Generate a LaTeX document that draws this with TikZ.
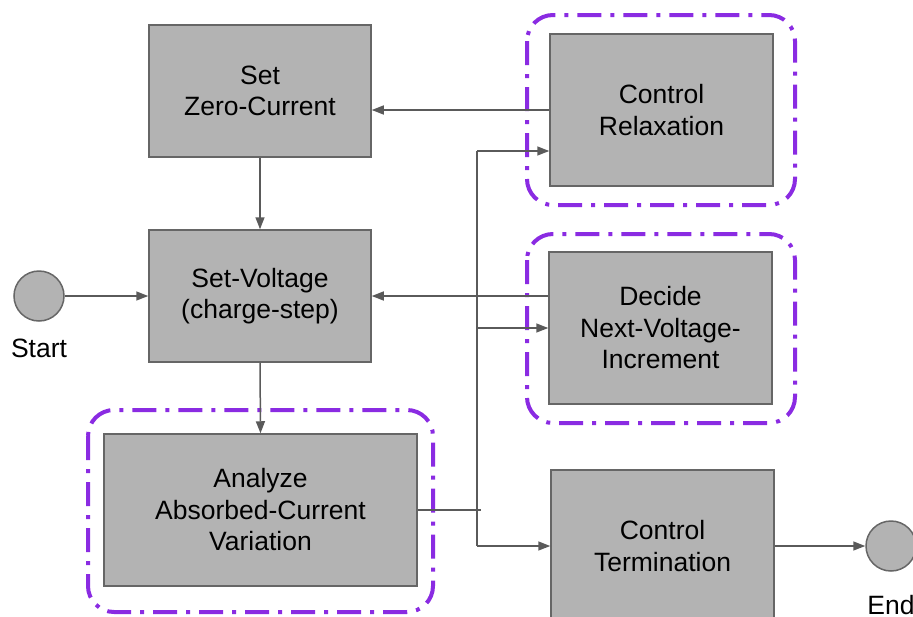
\documentclass[tikz,border=0pt]{standalone}
\usepackage{fontspec}
\setmainfont{Liberation Sans}
\usetikzlibrary{arrows.meta}
\definecolor{boxfill}{RGB}{179,179,179}
\definecolor{boxline}{RGB}{102,102,102}
\definecolor{wire}{RGB}{90,90,90}
\definecolor{grp}{RGB}{138,43,226}
\tikzset{
  stepbox/.style={draw=boxline, line width=1.5pt, fill=boxfill, minimum width=222pt, minimum height=132pt, align=center, font=\fontsize{26.5}{31.5}\selectfont, inner sep=0pt},
  bigbox/.style={stepbox, minimum height=152pt},
  terminal/.style={circle, draw=boxline, line width=1.5pt, fill=boxfill, minimum size=50pt, inner sep=0pt},
  lbl/.style={font=\fontsize{26.5}{31.5}\selectfont, inner sep=0pt},
  wire/.style={draw=wire, line width=1.5pt},
  flow/.style={wire, -{Triangle[length=12pt,width=9pt]}},
  group/.style={draw=grp, line width=4pt, rounded corners=26pt, dash pattern=on 24pt off 9pt on 4pt off 9pt}
}
\begin{document}
\begin{tikzpicture}[x=1pt,y=-1pt]
\useasboundingbox (0,0) rectangle (913,616);
\begin{scope}
\clip (0,0) rectangle (913,616);
% group frames
\draw[group] (527,15) rectangle (795,205);
\draw[group] (527,234) rectangle (795,423);
\draw[group] (88,410) rectangle (433,612);

% process steps
\node[stepbox] (zero) at (260,91) {Set\\Zero-Current};
\node[stepbox] (volt) at (260,296) {Set-Voltage\\(charge-step)};
\node[bigbox, minimum width=313pt] (anal) at (260.5,510) {Analyze\\Absorbed-Current\\Variation};
\node[bigbox, minimum width=223pt] (relax) at (661.5,110) {Control\\Relaxation};
\node[bigbox, minimum width=223pt] (decide) at (660.5,328) {Decide\\Next-Voltage-\\Increment};
\node[bigbox, minimum width=223pt] (term) at (662.5,546) {Control\\Termination};

% terminals
\node[terminal] (start) at (39,296) {};
\node[lbl] (startlbl) at (39,348) {Start};
\node[terminal] (end) at (891,546) {};
\node[lbl] (endlbl) at (891,605) {End};

% junction points on the distribution bus
\coordinate (bustop) at (477,151);
\coordinate (busmid) at (477,328);
\coordinate (busbot) at (477,546);
\coordinate (stub) at (481,510);

% connectors
\draw[flow] (relax.west |- 0,110) -- (zero.east |- 0,110);
\draw[flow] (zero.south) -- (volt.north);
\draw[flow] (start.east) -- (volt.west);
\draw[flow] (decide.west |- 0,296) -- (volt.east);
\draw[flow] (volt.south) -- (anal.north);
\draw[wire] (anal.east |- stub) -- (stub);
\draw[wire] (bustop) -- (busbot);
\draw[flow] (bustop) -- (relax.west |- bustop);
\draw[flow] (busmid) -- (decide.west);
\draw[flow] (busbot) -- (term.west);
\draw[flow] (term.east) -- (end.west);
\end{scope}
\end{tikzpicture}
\end{document}
